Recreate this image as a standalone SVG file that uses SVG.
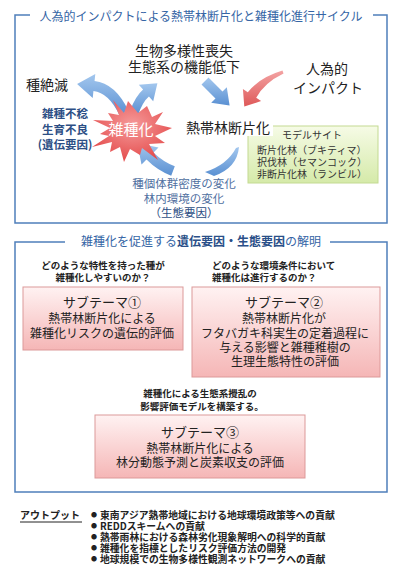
<svg xmlns="http://www.w3.org/2000/svg" width="400" height="588" viewBox="0 0 400 588">
<defs>
<linearGradient id="gBlue" x1="0" y1="0" x2="0" y2="1"><stop offset="0" stop-color="#a3c7ee"/><stop offset="1" stop-color="#5a90d2"/></linearGradient>
<linearGradient id="gRed" x1="0" y1="0" x2="0" y2="1"><stop offset="0" stop-color="#f3a3a3"/><stop offset="1" stop-color="#de5858"/></linearGradient>
<radialGradient id="gStar" cx="0.5" cy="0.4" r="0.6"><stop offset="0" stop-color="#f59a9a"/><stop offset="1" stop-color="#e44c4c"/></radialGradient>
<linearGradient id="gPink" x1="0" y1="0" x2="0" y2="1"><stop offset="0" stop-color="#fff2f2"/><stop offset="1" stop-color="#f5b6b6"/></linearGradient>
<linearGradient id="gGreen" x1="0" y1="0" x2="0" y2="1"><stop offset="0" stop-color="#f6fbe6"/><stop offset="1" stop-color="#d5eaa9"/></linearGradient>
</defs>
<style>
text{font-family:"Noto Sans CJK JP","Noto Sans",sans-serif;}
.frame{fill:none;stroke:#4f7fbb;stroke-width:1.5;}
.ttl{font-size:12px;fill:#3565a5;text-anchor:middle;}
.big{font-size:14px;fill:#222;text-anchor:middle;}
.gen{font-size:11.5px;fill:#2d4f85;font-weight:bold;text-anchor:middle;}
.eco{font-size:11.5px;fill:#4f6f9f;text-anchor:middle;}
.site{font-size:10px;fill:#333;}
.q{font-size:9.5px;fill:#222;font-weight:bold;}
.pbox{fill:url(#gPink);stroke:#dc9999;stroke-width:1;}
.sh{font-size:13px;fill:#222;text-anchor:middle;}
.sb{font-size:12px;fill:#222;text-anchor:middle;}
.out{font-size:9.8px;fill:#222;font-weight:bold;}
.bul{font-size:6px;fill:#222;text-anchor:middle;}
.ab{fill:url(#gBlue);}
.ar{fill:url(#gRed);}
</style>

<g id="frame1">
<path class="frame" d="M30,15 H15 V223 H387 V15 H373"/>
<text class="ttl" x="201" y="21">人為的インパクトによる熱帯林断片化と雑種化進行サイクル</text>
</g>

<g id="connectors">
<path class="ab" d="M128.5,110.8 Q115.3,83.3 94.55,81 L95.3,74.1 L77.1,84.1 L92.7,97.9 L93.45,91 Q108.7,92.7 119.5,115.2 Z"/>
<path class="ab" d="M138.2,114.5 Q142.8,101.6 148.9,96.4 L153.2,101.3 L157.4,83.2 L138.8,84.7 L143.1,89.6 Q135.2,96.4 129.8,111.5 Z"/>
<path class="ab" d="M208.5,77.5 L222.5,91.5 L226.8,87.2 L229.6,105.6 L211.2,102.8 L215.5,98.5 L201.5,84.5 Z"/>
<path class="ar" d="M282.5,70.6 Q259.9,77.3 247.8,92.2 L242.9,88.9 L244.3,106.6 L261.1,101.1 L256.2,97.8 Q264.1,82.7 283.5,73.4 Z"/>
<path class="ab" d="M239,147 Q237,168 214,176 L205,172 Q227,165 236,148 Z"/>
<path class="ab" d="M174.8,166.3 Q162.8,161.7 153.5,152.5 L158.5,147.5 L137.3,143.3 L141.5,164.5 L146.5,159.5 Q157.2,170.3 171.2,175.7 Z"/>
</g>

<g id="biodiv">
<text class="big" x="184" y="56">生物多様性喪失</text>
<text class="big" x="184" y="72">生態系の機能低下</text>
</g>
<g id="impact">
<text class="big" x="327" y="74">人為的</text>
<text class="big" x="328" y="93">インパクト</text>
</g>
<g id="extinction">
<text class="big" x="47" y="90">種絶滅</text>
</g>
<g id="genetic">
<text class="gen" x="65" y="117.5">雑種不稔</text>
<text class="gen" x="65" y="133.5">生育不良</text>
<text class="gen" x="65" y="148.5">(遺伝要因)</text>
</g>
<g id="hybrid">
<polygon fill="url(#gStar)" points="128,101 138,113 147,106 152,117 163,112 155,124 172,128 155,136 165,143 149,144 158,160 142,148 140,155 130,149 124,162 120,147 110,152 112,142 92,147 109,136 100,134 110,128 93,120 113,121 108,113 119,115 113,100 124,113"/>
<text x="131" y="134.5" style="font-size:15px;fill:#fff;text-anchor:middle">雑種化</text>
</g>

<g id="site">
<rect x="248" y="126" width="130" height="57" fill="url(#gGreen)" stroke="#c3da92" stroke-width="1"/>
<text class="site" x="282" y="139">モデルサイト</text>
<text class="site" x="257" y="154">断片化林（ブキティマ）</text>
<text class="site" x="257" y="166">択伐林（セマンコック）</text>
<text class="site" x="257" y="177.5">非断片化林（ランビル）</text>
</g>
<g id="fragment">
<rect x="183" y="118" width="90" height="18" fill="#fff"/>
<text class="big" x="228" y="132.5">熱帯林断片化</text>
</g>

<g id="ecological">
<rect x="130" y="176" width="108" height="12" fill="#fff"/>
<text class="eco" x="184" y="187.5">種個体群密度の変化</text>
<text class="eco" x="184" y="202.5">林内環境の変化</text>
<text class="eco" x="184" y="216.5" style="fill:#2d4f85">（生態要因）</text>
</g>

<g id="frame2">
<path class="frame" d="M65,242 H15 V492 H387 V242 H330"/>
<text class="ttl" x="201" y="245.5">雑種化を促進する<tspan style="font-weight:bold;fill:#2a4f88">遺伝要因・生態要因</tspan>の解明</text>
</g>

<g id="q1">
<text class="q" x="103" y="269" text-anchor="middle">どのような特性を持った種が</text>
<text class="q" x="103" y="280.5" text-anchor="middle">雑種化しやすいのか？</text>
</g>
<g id="q2">
<text class="q" x="212" y="269">どのような環境条件において</text>
<text class="q" x="212" y="280.5">雑種化は進行するのか？</text>
</g>

<g id="sub1">
<rect class="pbox" x="23" y="287" width="160" height="63"/>
<text class="sh" x="102" y="307">サブテーマ①</text>
<text class="sb" x="102" y="323">熱帯林断片化による</text>
<text class="sb" x="102" y="337.5">雑種化リスクの遺伝的評価</text>
</g>

<g id="sub2">
<rect class="pbox" x="192" y="287" width="188" height="90"/>
<text class="sh" x="284" y="307">サブテーマ②</text>
<text class="sb" x="284" y="323">熱帯林断片化が</text>
<text class="sb" x="285" y="337.5">フタバガキ科実生の定着過程に</text>
<text class="sb" x="285" y="352">与える影響と雑種稚樹の</text>
<text class="sb" x="285" y="366">生理生態特性の評価</text>
</g>

<g id="model">
<text class="q" x="200" y="396.5" text-anchor="middle">雑種化による生態系攪乱の</text>
<text class="q" x="202" y="409.5" text-anchor="middle">影響評価モデルを構築する。</text>
</g>

<g id="sub3">
<rect class="pbox" x="95" y="415" width="210" height="63"/>
<text class="sh" x="200" y="437">サブテーマ③</text>
<text class="sb" x="200" y="452.5">熱帯林断片化による</text>
<text class="sb" x="200" y="467">林分動態予測と炭素収支の評価</text>
</g>

<g id="output">
<text class="out" x="20" y="519" style="font-size:10px">アウトプット</text>
<line x1="20" y1="522" x2="82" y2="522" stroke="#222" stroke-width="1"/>
<text class="bul" x="94" y="517">●</text>
<text class="bul" x="94" y="528">●</text>
<text class="bul" x="94" y="539">●</text>
<text class="bul" x="94" y="550">●</text>
<text class="bul" x="94" y="561">●</text>
<text class="out" x="100" y="519">東南アジア熱帯地域における地球環境政策等への貢献</text>
<text class="out" x="100" y="530">REDDスキームへの貢献</text>
<text class="out" x="100" y="541">熱帯雨林における森林劣化現象解明への科学的貢献</text>
<text class="out" x="100" y="552">雑種化を指標としたリスク評価方法の開発</text>
<text class="out" x="100" y="563">地球規模での生物多様性観測ネットワークへの貢献</text>
</g>
</svg>
